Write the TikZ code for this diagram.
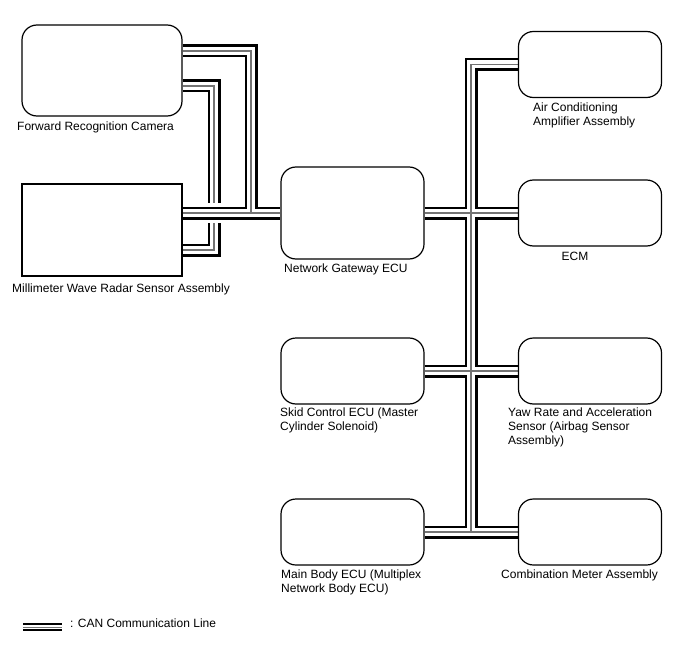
\documentclass[tikz,border=0pt]{standalone}
\usepackage{fontspec}
\setmainfont{Liberation Sans}
\usetikzlibrary{backgrounds}

\begin{document}
\begin{tikzpicture}[
  x=1pt, y=-1pt,
  every node/.style={font=\fontsize{12}{14}\selectfont},
  ecu/.style={draw, line width=1.2pt, rounded corners=15pt,
              minimum width=143pt, minimum height=66pt, inner sep=0pt},
  sensor/.style={draw, line width=1.1pt,
                 minimum width=160pt, minimum height=92pt, inner sep=0pt},
  lbl/.style={anchor=west, align=left, inner sep=0pt},
  bus/.style={line join=miter},
]
\useasboundingbox (0,0) rectangle (688,658);

% ---- left side: camera and radar -------------------------------------
\node[ecu, minimum width=160pt, minimum height=91pt] (cam) at (102,70.5) {};
\node[sensor] (radar) at (102,230) {};
\node[lbl] (camlbl)   at (17,127) {Forward Recognition Camera};
\node[lbl] (radarlbl) at (12,289) {Millimeter Wave Radar Sensor Assembly};

% ---- gateway ----------------------------------------------------------
\node[ecu, minimum height=92pt] (gw) at (352.5,213) {};
\node[lbl] (gwlbl) at (284,269) {Network Gateway ECU};

% ---- right column -----------------------------------------------------
\node[ecu] (ac)   at (590,64.5) {};
\node[ecu] (ecm)  at (590,213)  {};
\node[ecu] (yaw)  at (590,371)  {};
\node[ecu] (comb) at (590,532)  {};
\node[lbl] (aclbl)   at (533,115) {Air Conditioning\\Amplifier Assembly};
\node      (ecmlbl)  at (575,256) {ECM};
\node[lbl] (yawlbl)  at (508,427) {Yaw Rate and Acceleration\\Sensor (Airbag Sensor\\Assembly)};
\node[lbl] (comblbl) at (501,575) {Combination Meter Assembly};

% ---- middle column ----------------------------------------------------
\node[ecu] (skid) at (352.5,371) {};
\node[ecu] (main) at (352.5,532) {};
\node[lbl] (skidlbl) at (280,420) {Skid Control ECU (Master\\Cylinder Solenoid)};
\node[lbl] (mainlbl) at (281,582) {Main Body ECU (Multiplex\\Network Body ECU)};

% ---- legend -----------------------------------------------------------
\node[lbl] (legend) at (70,623) {: CAN Communication Line};
\coordinate (legA) at (23,627);

% ---- bends of the bus -------------------------------------------------
\coordinate (bendA) at (251,51);
\coordinate (bendB) at (214,86);
\coordinate (radB)  at (214,250);
\coordinate (trunk) at (471,64.5);
\coordinate (cross) at (bendB |- gw.west);

\begin{scope}[on background layer]
% camera -> radar, runs under the radar -> gateway line
\foreach \lw/\lc in {13/black, 8/white, 1.2/black!55}
  \draw[bus, line width=\lw pt, \lc] (cam.east |- bendB) -- (bendB) -- (radB) -- (radar.east |- radB);
\fill[white] ([xshift=-8pt, yshift=-10pt]cross) rectangle ([xshift=8pt, yshift=10pt]cross);

% CAN bus, drawn layer by layer so the joints merge
\foreach \lw/\lc in {13/black, 8/white, 1.2/black!55}{
  \draw[bus, line width=\lw pt, \lc] (cam.east |- bendA) -- (bendA) -- (bendA |- gw.west) -- (gw.west);
  \draw[bus, line width=\lw pt, \lc] (radar.east |- gw.west) -- (gw.west);
  \draw[bus, line width=\lw pt, \lc] (gw.east) -- (ecm.west);
  \draw[bus, line width=\lw pt, \lc] (ac.west) -- (trunk) -- (trunk |- comb.west);
  \draw[bus, line width=\lw pt, \lc] (skid.east) -- (yaw.west);
  \draw[bus, line width=\lw pt, \lc] (main.east) -- (comb.west);
}

% legend sample
\foreach \lw/\lc in {8/black, 4.6/white, 1/black!55}
  \draw[line width=\lw pt, \lc] (legA) -- ++(39,0);
\end{scope}

\end{tikzpicture}
\end{document}
